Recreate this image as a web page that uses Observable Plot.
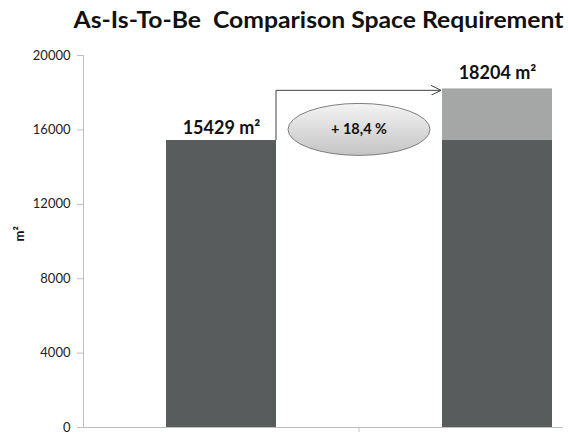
<!DOCTYPE html>
<html><head><meta charset="utf-8">
<script src="https://cdn.jsdelivr.net/npm/d3@7"></script>
<script src="https://cdn.jsdelivr.net/npm/@observablehq/plot@0.6"></script>
<style>
body{margin:0;background:#fff;overflow:hidden;font-family:Lato,"Open Sans",sans-serif}
#chart svg{overflow:hidden}
</style>
</head><body><div id="chart"></div>
<script>
const title = "As-Is-To-Be  Comparison Space Requirement";
const categories = ["As-Is", "To-Be"];
const baseValues = [15429, 15429];
const addedValues = [0, 2775];
const totals = [15429, 18204];
const totalLabels = ["15429 m²", "18204 m²"];
const changeLabel = "+ 18,4 %";
const yTicks = [0, 4000, 8000, 12000, 16000, 20000];
const yLabel = "m²";
const arrowLevel = 18100;
const ellipseLevel = 16000;

const segments = [];
categories.forEach((c, i) => {
  segments.push({cat: c, part: "base", value: baseValues[i]});
  if (addedValues[i] > 0) segments.push({cat: c, part: "added", value: addedValues[i]});
});
const labelRows = categories.map((c, i) => ({cat: c, total: totals[i], label: totalLabels[i]}));

const W = 568, H = 432, mL = 83, mR = 5, mT = 55, mB = 5;

function annotations(index, scales, values, dims) {
  const x = scales.x, y = scales.y;
  const bw = x.bandwidth();
  const g = d3.create("svg:g");
  const defs = g.append("defs");
  const grad = defs.append("linearGradient").attr("id", "eg").attr("x1", 0).attr("y1", 0).attr("x2", 0).attr("y2", 1);
  grad.append("stop").attr("offset", "0%").attr("stop-color", "#f4f4f4");
  grad.append("stop").attr("offset", "100%").attr("stop-color", "#c4c4c4");
  defs.append("marker").attr("id", "ah").attr("viewBox", "0 0 10 10").attr("refX", 10).attr("refY", 5)
    .attr("markerWidth", 10).attr("markerHeight", 10).attr("markerUnits", "userSpaceOnUse").attr("orient", "auto")
    .append("path").attr("d", "M0,0L10,5L0,10").attr("fill", "none").attr("stroke", "#404040").attr("stroke-width", 1);
  const x0 = x(categories[0]) + bw, x1 = x(categories[1]);
  const yA = y(totals[0]), yB = y(arrowLevel);
  g.append("path").attr("d", `M${x0},${yA}V${yB}H${x1 - 1}`).attr("fill", "none").attr("stroke", "#404040").attr("stroke-width", 1).attr("marker-end", "url(#ah)");
  const xm = (x(categories[0]) + bw / 2 + x(categories[1]) + bw / 2) / 2;
  const ym = y(ellipseLevel);
  g.append("ellipse").attr("cx", xm).attr("cy", ym).attr("rx", 71).attr("ry", 26)
    .attr("fill", "url(#eg)").attr("stroke", "#7f7f7f").attr("stroke-width", 1);
  g.append("text").attr("x", xm).attr("y", ym).attr("dy", "0.35em").attr("text-anchor", "middle")
    .attr("font-weight", "bold").attr("font-size", 14.5).attr("fill", "#111").text(changeLabel);
  g.append("line").attr("x1", xm).attr("x2", xm).attr("y1", y(0)).attr("y2", y(0) + 5).attr("stroke", "#bfbfbf");
  return g.node();
}

const chart = Plot.plot({
  width: W, height: H,
  marginLeft: mL, marginRight: mR, marginTop: mT, marginBottom: mB,
  style: {fontFamily: "Lato, 'Open Sans', sans-serif", background: "#fff"},
  x: {domain: categories, range: [mL, 636], paddingInner: 0.6, paddingOuter: 0.3, axis: null},
  y: {domain: [0, 20000], label: null},
  color: {domain: ["base", "added"], range: ["#595c5c", "#a5a7a7"]},
  marks: [
    Plot.barY(segments, {x: "cat", y: "value", fill: "part", order: ["base", "added"]}),
    Plot.axisY({ticks: yTicks, tickSize: 6, tickPadding: 7, fontSize: 13, stroke: "#bfbfbf", fill: "#222", label: null, tickFormat: d => String(d)}),
    Plot.frame({anchor: "left", stroke: "#bfbfbf"}),
    Plot.ruleY([0], {stroke: "#bfbfbf"}),
    Plot.text(labelRows.slice(0, 1), {x: "cat", y: "total", text: "label", dy: -7, lineAnchor: "bottom", fontWeight: "bold", fontSize: 18, fill: "#111"}),
    Plot.text(labelRows.slice(1), {x: "cat", y: "total", text: "label", dy: -10, lineAnchor: "bottom", fontWeight: "bold", fontSize: 18, fill: "#111"}),
    annotations,
    Plot.text([title], {frameAnchor: "top", lineAnchor: "bottom", dy: -28, dx: -5, fontWeight: "bold", fontSize: 23, fill: "#111", className: "ttl"}),
    Plot.text([yLabel], {frameAnchor: "left", dx: -64, rotate: -90, fontWeight: "bold", fontSize: 13, fill: "#111"})
  ]
});
chart.querySelectorAll(".ttl text").forEach(t => { t.setAttribute("textLength", 490); t.setAttribute("lengthAdjust", "spacingAndGlyphs"); });
document.getElementById("chart").append(chart);
</script>
</body></html>
